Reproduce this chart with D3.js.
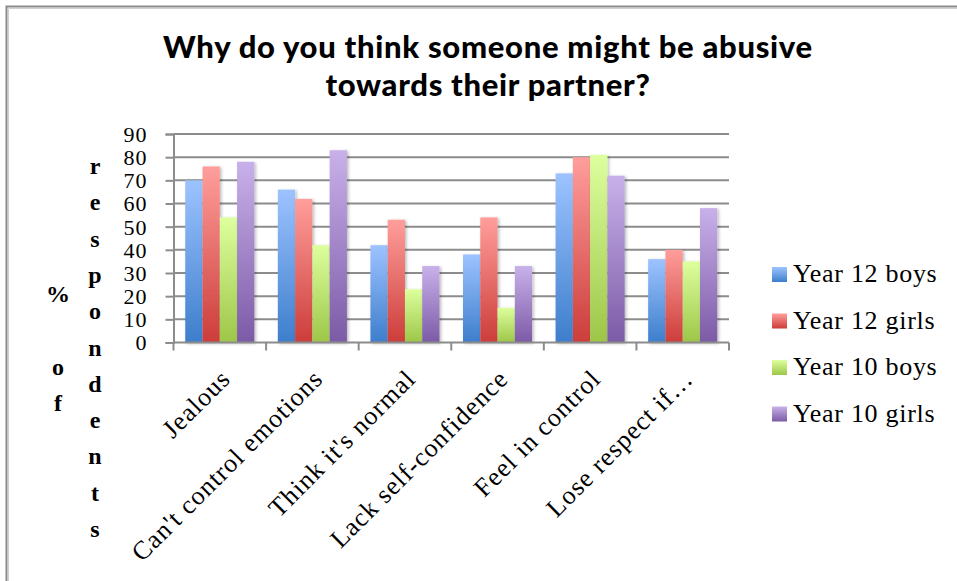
<!DOCTYPE html>
<html>
<head>
<meta charset="utf-8">
<script src="https://cdn.jsdelivr.net/npm/d3@7"></script>
<style>
  html, body { margin: 0; padding: 0; background: #fff; }
  svg { display: block; }
</style>
</head>
<body>
<svg id="chart" width="957" height="581"></svg>
<script>
// Reasons given, one group of bars each
const categories = ["Jealous", "Can't control emotions", "Think it's normal",
  "Lack self-confidence", "Feel in control", "Lose respect if\u2026"];
const seriesNames = ["Year 12 boys", "Year 12 girls", "Year 10 boys", "Year 10 girls"];

// Percentage of respondents per series, in category order
const year12Boys  = [70, 66, 42, 38, 73, 36];
const year12Girls = [76, 62, 53, 54, 80, 40];
const year10Boys  = [54, 42, 23, 15, 81, 35];
const year10Girls = [78, 83, 33, 33, 72, 58];

const yTicks = [0, 10, 20, 30, 40, 50, 60, 70, 80, 90];
const titleLines = ["Why do you think someone might be abusive", "towards their partner?"];
const axisTitleWords = ["% of", "respondents"];

// top / bottom colour of each series' gradient
const gradTop    = ["#9dc3ff", "#ff9e9b", "#ddff9e", "#c8b1ea"];
const gradBottom = ["#3d7ecc", "#cc3d3a", "#9dc648", "#7c5aa6"];

const values = [year12Boys, year12Girls, year10Boys, year10Girls];

const svg = d3.select("#chart");
const defs = svg.append("defs");

seriesNames.forEach((s, i) => {
  const g = defs.append("linearGradient")
    .attr("id", "grad" + i)
    .attr("x1", 0).attr("y1", 0).attr("x2", 0).attr("y2", 1);
  g.append("stop").attr("offset", "0%").attr("stop-color", gradTop[i]);
  g.append("stop").attr("offset", "100%").attr("stop-color", gradBottom[i]);
});

const shadow = defs.append("filter").attr("id", "barShadow")
  .attr("x", "-20%").attr("y", "-10%").attr("width", "160%").attr("height", "130%");
shadow.append("feDropShadow")
  .attr("dx", 1.5).attr("dy", 1).attr("stdDeviation", 1.5)
  .attr("flood-color", "#000").attr("flood-opacity", 0.28);

// outer frame (top and left edges)
svg.append("path")
  .attr("d", "M6.5,581 V6.5 H957")
  .attr("fill", "none").attr("stroke", "#8a8a8a").attr("stroke-width", 2);
svg.append("path")
  .attr("d", "M8.5,581 V8.5 H957")
  .attr("fill", "none").attr("stroke", "#d0d0d0").attr("stroke-width", 1);

const plotLeft = 173.5, plotRight = 729, plotTop = 134, plotBottom = 342.5;

const y = d3.scaleLinear().domain([0, 90]).range([plotBottom, plotTop]);
const x0 = d3.scaleBand().domain(categories).range([plotLeft, plotRight]).padding(0);
const x1 = d3.scaleBand().domain(seriesNames).range([0, x0.bandwidth()])
  .paddingInner(0).paddingOuter(0.68);

// horizontal gridlines
svg.append("g")
  .selectAll("line")
  .data(yTicks.filter(t => t > 0))
  .join("line")
  .attr("x1", plotLeft).attr("x2", plotRight)
  .attr("y1", d => y(d)).attr("y2", d => y(d))
  .attr("stroke", "#8c8c8c").attr("stroke-width", 2);

// y axis
const yAxis = d3.axisLeft(y).tickValues(yTicks).tickSize(8).tickPadding(18);
const yG = svg.append("g").attr("transform", `translate(${plotLeft},0)`).call(yAxis);
yG.select(".domain").attr("stroke", "#8c8c8c").attr("stroke-width", 2);
yG.selectAll(".tick line").attr("stroke", "#8c8c8c").attr("stroke-width", 2);
yG.selectAll(".tick text")
  .attr("fill", "#000")
  .attr("font-family", "'Liberation Serif', serif")
  .attr("font-size", 22)
  .attr("letter-spacing", 1)
  .attr("dy", "0.34em");

// bars
const groups = svg.append("g")
  .selectAll("g")
  .data(categories)
  .join("g")
  .attr("transform", d => `translate(${x0(d)},0)`);

groups.selectAll("rect")
  .data((c, ci) => seriesNames.map((s, si) => ({ s, si, v: values[si][ci] })))
  .join("rect")
  .attr("x", d => x1(d.s))
  .attr("y", d => y(d.v))
  .attr("width", x1.bandwidth())
  .attr("height", d => y(0) - y(d.v))
  .attr("fill", d => `url(#grad${d.si})`)
  .attr("filter", "url(#barShadow)");

// x axis with ticks between categories
const xG = svg.append("g");
xG.append("line")
  .attr("x1", plotLeft).attr("x2", plotRight)
  .attr("y1", plotBottom).attr("y2", plotBottom)
  .attr("stroke", "#8c8c8c").attr("stroke-width", 2);
xG.selectAll("line.tk")
  .data(categories.map(c => x0(c)).concat([plotRight]))
  .join("line")
  .attr("class", "tk")
  .attr("x1", d => d).attr("x2", d => d)
  .attr("y1", plotBottom).attr("y2", plotBottom + 8)
  .attr("stroke", "#8c8c8c").attr("stroke-width", 2);

xG.selectAll("text")
  .data(categories)
  .join("text")
  .attr("transform", d => `translate(${x0(d) + x0.bandwidth() / 2 + 12},${plotBottom + 38}) rotate(-45)`)
  .attr("text-anchor", "end")
  .attr("font-family", "'Liberation Serif', serif")
  .attr("font-size", 26)
  .attr("letter-spacing", 1)
  .attr("fill", "#000")
  .text(d => d);

// title
svg.append("g").selectAll("text")
  .data(titleLines)
  .join("text")
  .attr("x", 488)
  .attr("y", (d, i) => 58 + i * 38)
  .attr("text-anchor", "middle")
  .attr("font-family", "Lato, sans-serif")
  .attr("font-weight", 900)
  .attr("font-size", 31)
  .attr("letter-spacing", 0.7)
  .attr("fill", "#000")
  .text(d => d);

// vertical axis title, one letter per line in two columns
const colX = [58, 95];
const colStart = [302, 174];
const rowStep = 36.3;
axisTitleWords.forEach((w, wi) => {
  svg.append("g").selectAll("text")
    .data(w.split(""))
    .join("text")
    .attr("x", colX[wi])
    .attr("y", (d, i) => colStart[wi] + i * rowStep)
    .attr("text-anchor", "middle")
    .attr("font-family", "'Liberation Serif', serif")
    .attr("font-weight", "bold")
    .attr("font-size", 24)
    .attr("fill", "#000")
    .text(d => d);
});

// legend
const legend = svg.append("g").selectAll("g")
  .data(seriesNames)
  .join("g")
  .attr("transform", (d, i) => `translate(772,${267 + i * 46.5})`);
legend.append("rect")
  .attr("width", 15).attr("height", 15)
  .attr("fill", (d, i) => `url(#grad${i})`);
legend.append("text")
  .attr("x", 21).attr("y", 15)
  .attr("font-family", "'Liberation Serif', serif")
  .attr("font-size", 26)
  .attr("letter-spacing", 0.7)
  .attr("fill", "#000")
  .text(d => d);
</script>
</body>
</html>
